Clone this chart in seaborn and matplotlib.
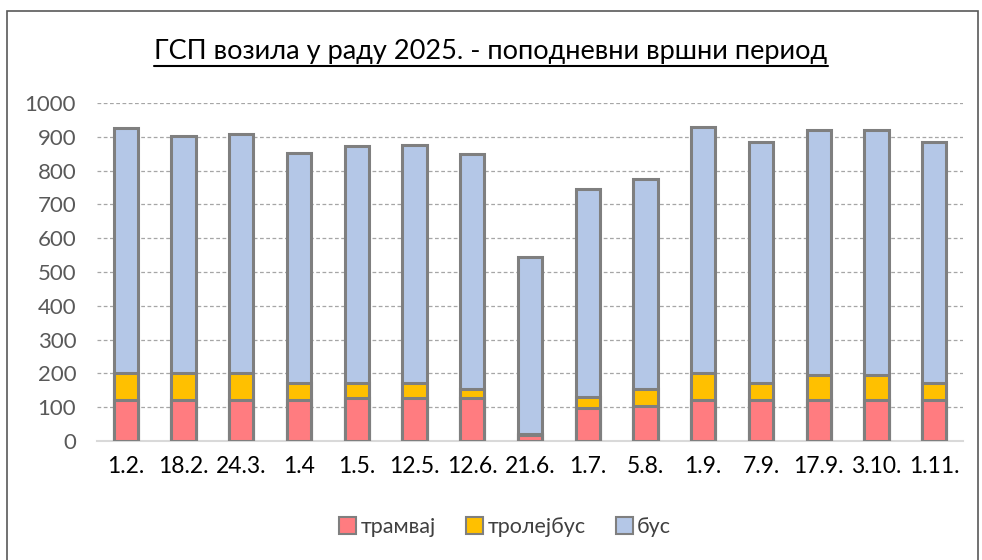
import matplotlib
matplotlib.use('Agg')
import matplotlib.pyplot as plt
import seaborn as sns
import pandas as pd
from matplotlib.patches import Rectangle, Patch
from matplotlib.lines import Line2D

# data
dates = ['1.2.', '18.2.', '24.3.', '1.4', '1.5.', '12.5.', '12.6.', '21.6.',
         '1.7.', '5.8.', '1.9.', '7.9.', '17.9.', '3.10.', '1.11.']
tram = [122, 122, 122, 122, 127, 127, 127, 18, 97, 103, 122, 122, 122, 122, 122]
trolley = [78, 78, 78, 50, 45, 45, 26, 3, 32, 50, 80, 50, 74, 74, 50]
bus = [725, 702, 707, 681, 701, 705, 697, 523, 618, 621, 728, 714, 725, 725, 714]

df = pd.DataFrame({'date': dates, 'tram': tram, 'trolley': trolley, 'bus': bus})
df['lvl2'] = df['tram'] + df['trolley']
df['lvl3'] = df['lvl2'] + df['bus']

c_tram = '#FF7C80'
c_trol = '#FFC000'
c_bus = '#B4C7E7'
edge = '#7F7F7F'

sns.set_style('white')
plt.rcParams['font.family'] = ['Lato', 'Noto Sans', 'DejaVu Sans']

fig = plt.figure(figsize=(9.82, 5.6), dpi=100)
ax = fig.add_axes([97 / 982, 119 / 560, 866 / 982, 338 / 560])

# stacked bars drawn as overlapping cumulative layers
for col, c in [('lvl3', c_bus), ('lvl2', c_trol), ('tram', c_tram)]:
    sns.barplot(data=df, x='date', y=col, color=c, width=0.42, edgecolor=edge,
                linewidth=2.2, ax=ax, saturation=1, zorder=3)

ax.set_xlim(-0.5, len(dates) - 0.5)
ax.set_ylim(0, 1000)
ax.set_yticks(range(0, 1001, 100))
ax.yaxis.grid(True, linestyle=(0, (3, 2)), color='#A6A6A6', linewidth=0.9, zorder=0)
ax.set_axisbelow(True)
for s in ['top', 'right', 'left']:
    ax.spines[s].set_visible(False)
ax.spines['bottom'].set_color('#D9D9D9')
ax.spines['bottom'].set_linewidth(1.5)
ax.set_xlabel('')
ax.set_ylabel('')
ax.tick_params(axis='y', labelsize=16, labelcolor='#595959', length=0, pad=15)
ax.tick_params(axis='x', labelsize=16.5, labelcolor='#000000', length=0, pad=11)

title = fig.text(0.5, 1 - 52 / 560, 'ГСП возила у раду 2025. - поподневни вршни период',
                 ha='center', va='center', fontsize=19.5, color='black')

handles = [Patch(facecolor=c_tram, edgecolor=edge, linewidth=1.5, label='трамвај'),
           Patch(facecolor=c_trol, edgecolor=edge, linewidth=1.5, label='тролејбус'),
           Patch(facecolor=c_bus, edgecolor=edge, linewidth=1.5, label='бус')]
fig.legend(handles=handles, loc='center', bbox_to_anchor=(505 / 982, 1 - 527 / 560),
           ncol=3, frameon=False, fontsize=15.5, handlelength=0.8, handleheight=0.8,
           handletextpad=0.2, columnspacing=1.4, labelcolor='#404040')

# outer chart border
fig.patches.append(Rectangle((7 / 982, -0.01), 971 / 982, 1 - 11 / 560 + 0.01,
                             transform=fig.transFigure, fill=False,
                             edgecolor='#595959', linewidth=1.2))

# underline the title
fig.canvas.draw()
bb = title.get_window_extent()
inv = fig.transFigure.inverted()
x0, y0 = inv.transform((bb.x0, bb.y0))
x1, _ = inv.transform((bb.x1, bb.y0))
fig.lines.append(Line2D([x0, x1], [y0 - 0.002, y0 - 0.002], transform=fig.transFigure,
                        color='black', linewidth=1.5))

fig.savefig('out.png', dpi=100)
